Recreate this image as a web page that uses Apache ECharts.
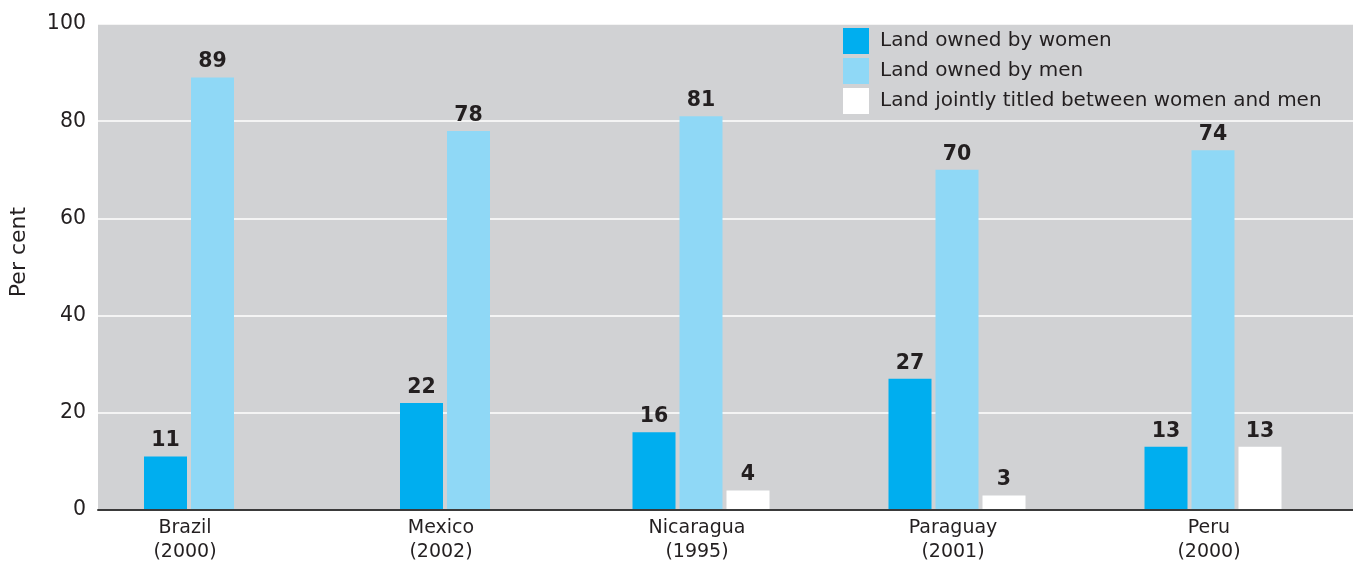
<!DOCTYPE html>
<html>
<head>
<meta charset="utf-8">
<script src="https://cdn.jsdelivr.net/npm/echarts@6/dist/echarts.min.js"></script>
<style>
html,body{margin:0;padding:0;background:#fff;}
#chart{width:1353px;height:565px;}
</style>
</head>
<body>
<div id="chart"></div>
<script>
// ---- data ----
const categories = ['Brazil\n(2000)', 'Mexico\n(2002)', 'Nicaragua\n(1995)', 'Paraguay\n(2001)', 'Peru\n(2000)'];
const women = [11, 22, 16, 27, 13];
const men = [89, 78, 81, 70, 74];
const joint = [null, null, 4, 3, 13];
const seriesNames = ['Land owned by women', 'Land owned by men', 'Land jointly titled between women and men'];
const yTicks = [0, 20, 40, 60, 80, 100];

const allSeries = [women, men, joint];
const colors = ['#00aeef', '#8fd8f6', '#ffffff'];
const FONT = 'DejaVu Sans, sans-serif';
const TEXT = '#231f20';

function makeRender(sIdx) {
  return function (params, api) {
    const cat = api.value(0);
    const val = api.value(1);
    const present = allSeries.map(a => a[cat] != null);
    const n = present.filter(Boolean).length;
    let slot = 0;
    for (let i = 0; i < sIdx; i++) if (present[i]) slot++;
    const base = api.coord([cat, 0]);
    const top = api.coord([cat, val]);
    const bw = 43, gap = 4;
    const groupW = n * bw + (n - 1) * gap;
    const x = base[0] - groupW / 2 + slot * (bw + gap);
    return {
      type: 'group',
      children: [
        { type: 'rect', shape: { x: x, y: top[1], width: bw, height: base[1] - top[1] },
          style: { fill: colors[sIdx] } },
        { type: 'text', style: { text: String(val), x: x + bw / 2, y: top[1] - 5,
          align: 'center', verticalAlign: 'bottom', fontSize: 20.5, fontWeight: 'bold',
          fontFamily: FONT, fill: TEXT } }
      ]
    };
  };
}

const chart = echarts.init(document.getElementById('chart'));
chart.setOption({
  animation: false,
  backgroundColor: '#ffffff',
  textStyle: { fontFamily: FONT, color: TEXT },
  legend: {
    orient: 'vertical', left: 843, top: 28, padding: 0,
    itemWidth: 26, itemHeight: 26, itemGap: 4,
    icon: 'rect', data: seriesNames,
    textStyle: { fontSize: 20, color: TEXT, fontFamily: FONT, padding: [0, 0, 0, 6] }
  },
  grid: [
    { left: 97, right: 0, top: 24, bottom: 55, show: true, backgroundColor: '#d1d2d4', borderWidth: 0 },
    { left: 61, width: 1280, top: 24, bottom: 55 }
  ],
  xAxis: [
    { gridIndex: 0, type: 'value', min: 0, max: 1, z: 5,
      axisLine: { show: true, lineStyle: { color: '#3a3a3a', width: 2 } },
      axisTick: { show: false }, axisLabel: { show: false }, splitLine: { show: false } },
    { gridIndex: 1, type: 'category', data: categories,
      axisLine: { show: false }, axisTick: { show: false },
      axisLabel: { fontSize: 19, lineHeight: 24, color: TEXT, fontFamily: FONT, margin: 6, padding: [0, 8, 0, 0] } }
  ],
  yAxis: [
    { gridIndex: 0, type: 'value', min: 0, max: 100, interval: 20,
      name: 'Per cent', nameLocation: 'middle', nameGap: 68,
      nameTextStyle: { fontSize: 22, color: TEXT, fontFamily: FONT, padding: [0, 0, 0, 30] },
      axisLine: { show: false }, axisTick: { show: false },
      axisLabel: { fontSize: 20.5, color: TEXT, fontFamily: FONT, margin: 12 },
      splitLine: { show: true, lineStyle: { color: '#ffffff', width: 1.5 } } },
    { gridIndex: 1, type: 'value', min: 0, max: 100, show: false, splitLine: { show: false } }
  ],
  series: allSeries.map((arr, s) => ({
    name: seriesNames[s],
    type: 'custom',
    xAxisIndex: 1, yAxisIndex: 1,
    itemStyle: { color: colors[s] },
    encode: { x: 0, y: 1 },
    renderItem: makeRender(s),
    data: arr.map((v, i) => [i, v]).filter(d => d[1] != null)
  }))
});
</script>
</body>
</html>
